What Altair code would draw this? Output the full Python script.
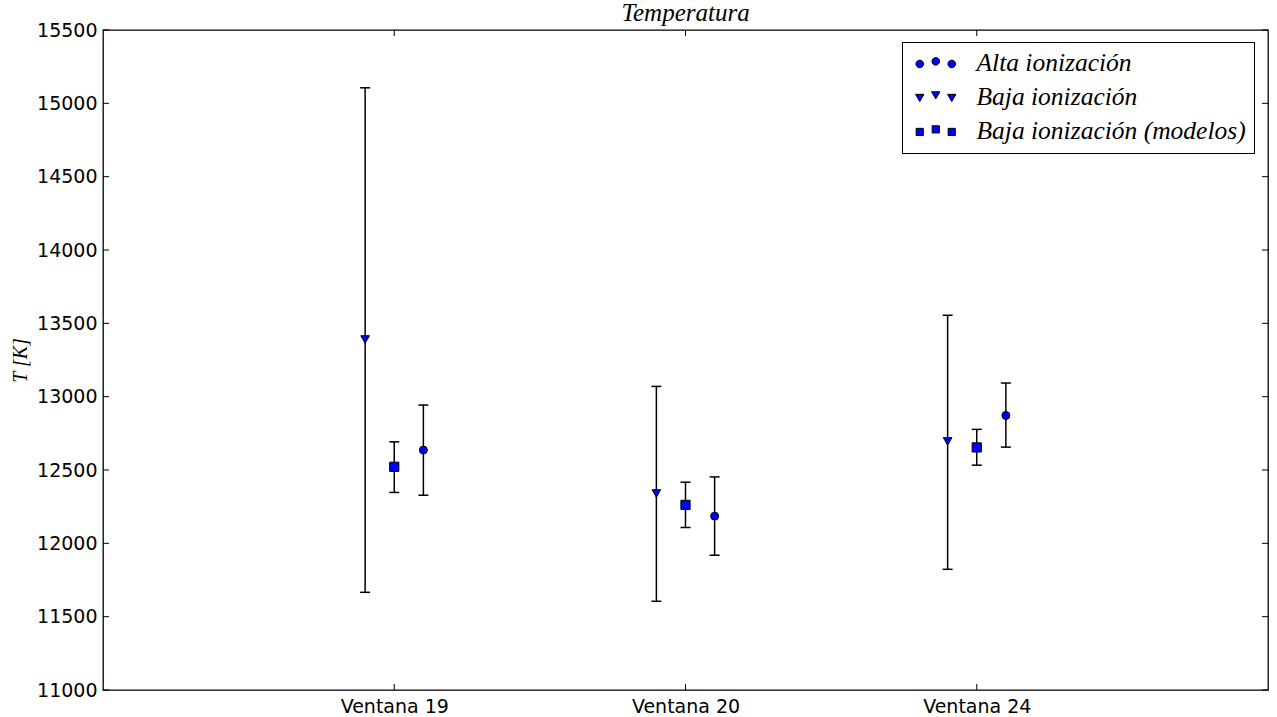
import altair as alt
import pandas as pd

# ---------------- data ----------------
categories = ["Ventana 19", "Ventana 20", "Ventana 24"]
cat_pos = [1, 2, 3]
series = ["Alta ionización", "Baja ionización", "Baja ionización (modelos)"]
series_offset = [0.1, -0.1, 0.0]

alta_T = [12636, 12185, 12872]
alta_lo = [12328, 11919, 12656]
alta_hi = [12943, 12453, 13093]

baja_T = [13390, 12340, 12695]
baja_lo = [11666, 11605, 11823]
baja_hi = [15106, 13070, 13555]

mod_T = [12522, 12262, 12654]
mod_lo = [12347, 12108, 12533]
mod_hi = [12692, 12417, 12777]

y_ticks = [11000, 11500, 12000, 12500, 13000, 13500, 14000, 14500, 15000, 15500]

rows = []
for s, off, T, lo, hi in zip(series, series_offset,
                             [alta_T, baja_T, mod_T],
                             [alta_lo, baja_lo, mod_lo],
                             [alta_hi, baja_hi, mod_hi]):
    for c, p, t, l, h in zip(categories, cat_pos, T, lo, hi):
        rows.append({"serie": s, "ventana": c, "x": p + off, "T": t, "lo": l, "hi": h})
df = pd.DataFrame(rows)
ytick_df = pd.DataFrame({"v": y_ticks})
xtick_df = pd.DataFrame({"c": cat_pos})

W, H = 1165, 660
SERIF = "Liberation Serif"
SANS = "DejaVu Sans"

label_expr = " : ".join(
    f"datum.value == {p} ? '{c}'" for p, c in zip(cat_pos, categories)
) + " : ''"

xscale = alt.Scale(domain=[0, 4], nice=False, zero=False)
yscale = alt.Scale(domain=[11000, 15500], nice=False, zero=False)

x_axis = alt.Axis(values=cat_pos, labelExpr=label_expr, title=None, grid=False,
                  ticks=False, tickSize=0, domain=False, labelFont=SANS,
                  labelFontSize=19, labelColor="black", labelPadding=7)
y_axis = alt.Axis(values=y_ticks, format="d", title="T [K]", grid=False, ticks=False,
                  tickSize=0, domain=False, labelFont=SANS, labelFontSize=19,
                  labelColor="black", labelPadding=6, titleFont=SERIF,
                  titleFontStyle="italic", titleFontWeight="normal", titleFontSize=20,
                  titleColor="black", titleX=-83, titleY=H / 2, titleAlign="center",
                  titleBaseline="middle", titleAngle=270)

def X(field):
    return alt.X(field, scale=xscale, axis=x_axis)

def Y(field):
    return alt.Y(field, scale=yscale, axis=y_axis)

# legend symbols: three markers per entry, like matplotlib numpoints=3
def circ(cx, cy, r=0.95):
    return (f"M{cx - r},{cy} A{r},{r} 0 1,0 {cx + r},{cy} "
            f"A{r},{r} 0 1,0 {cx - r},{cy} Z")

def tri(cx, cy):
    return f"M{cx - 1.05},{cy - 0.9} L{cx + 1.05},{cy - 0.9} L{cx},{cy + 0.9} Z"

def sq(cx, cy, a=0.9):
    return f"M{cx - a},{cy - a} H{cx + a} V{cy + a} H{cx - a} Z"

sym_x = [-4, 0, 4]
sym_y = [0.3, -0.35, 0.3]
paths = [" ".join(f(x, y) for x, y in zip(sym_x, sym_y)) for f in (circ, tri, sq)]

legend = alt.Legend(
    title=None, orient="none", legendX=799, legendY=12,
    strokeColor="black", fillColor="white", padding=8, cornerRadius=0,
    labelFont=SERIF, labelFontStyle="italic", labelFontSize=25.5, labelColor="black",
    labelLimit=500, labelOffset=28, symbolOffset=13, symbolSize=64,
    symbolOpacity=1, symbolStrokeWidth=1, symbolFillColor="blue",
    symbolStrokeColor="black", rowPadding=7,
)

base = alt.Chart(df)

err = base.mark_rule(color="black", strokeWidth=1.5).encode(
    x=X("x:Q"), y=Y("lo:Q"), y2="hi:Q")
cap_hi = base.mark_rule(color="black", strokeWidth=1.5, xOffset=-5, x2Offset=5).encode(
    x=X("x:Q"), x2="x:Q", y=Y("hi:Q"))
cap_lo = base.mark_rule(color="black", strokeWidth=1.5, xOffset=-5, x2Offset=5).encode(
    x=X("x:Q"), x2="x:Q", y=Y("lo:Q"))

pts = base.mark_point(filled=False, fill="blue", fillOpacity=1, stroke="black",
                      strokeWidth=1, opacity=1).encode(
    x=X("x:Q"),
    y=Y("T:Q"),
    shape=alt.Shape("serie:N",
                    scale=alt.Scale(domain=series,
                                    range=["circle", "triangle-down", "square"]),
                    legend=None),
    size=alt.Size("serie:N", scale=alt.Scale(domain=series, range=[64, 85, 64]),
                  legend=None),
)

# legend-only layer (no marks drawn; legend entries come from the scale domains)
leg = base.transform_filter("false").mark_point(
    filled=True, opacity=1, strokeWidth=1
).encode(
    x=X("x:Q"),
    y=Y("T:Q"),
    shape=alt.Shape("serie:N", scale=alt.Scale(domain=series, range=paths),
                    legend=legend),
    fill=alt.Fill("serie:N", scale=alt.Scale(domain=series, range=["blue"] * 3),
                  legend=legend),
    stroke=alt.Stroke("serie:N", scale=alt.Scale(domain=series, range=["black"] * 3),
                      legend=legend),
)

tick_style = dict(color="black", strokeWidth=1)
yl = alt.Chart(ytick_df).mark_rule(**tick_style).encode(
    y=Y("v:Q"), x=alt.value(0), x2=alt.value(6))
yr = alt.Chart(ytick_df).mark_rule(**tick_style).encode(
    y=Y("v:Q"), x=alt.value(W - 6), x2=alt.value(W))
xb = alt.Chart(xtick_df).mark_rule(**tick_style).encode(
    x=X("c:Q"), y=alt.value(H - 6), y2=alt.value(H))
xt = alt.Chart(xtick_df).mark_rule(**tick_style).encode(
    x=X("c:Q"), y=alt.value(0), y2=alt.value(6))

chart = alt.layer(err, cap_hi, cap_lo, yl, yr, xb, xt, pts, leg).resolve_scale(
    shape="independent", size="independent"
).properties(
    width=W, height=H,
    title=alt.TitleParams("Temperatura", font=SERIF, fontStyle="italic",
                          fontWeight="normal", fontSize=25, color="black",
                          anchor="middle", offset=5, dy=10),
    autosize=alt.AutoSizeParams(type="none"),
    padding={"left": 103, "top": 30, "right": 9, "bottom": 27},
    background="white",
).configure_view(stroke="black", strokeWidth=1.3)

chart.save("out.html", embed_options={"renderer": "svg", "actions": False})
